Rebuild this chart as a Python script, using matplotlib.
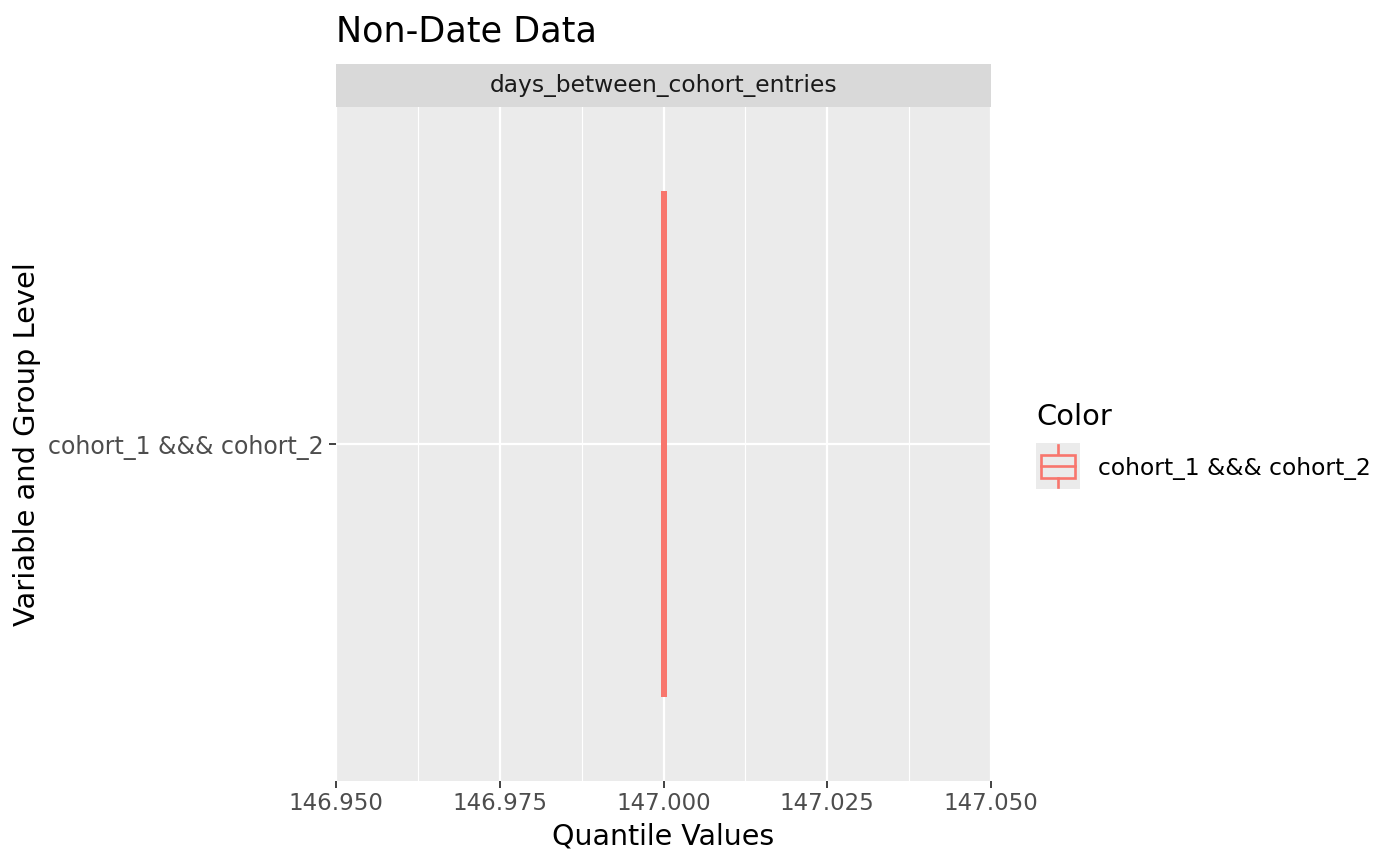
import numpy as np
import matplotlib
matplotlib.use('Agg')
import matplotlib.pyplot as plt
from matplotlib.patches import Rectangle

groups = ['cohort_1 &&& cohort_2']
quantiles = [147.0, 147.0, 147.0, 147.0, 147.0]  # min, q1, median, q3, max
facet = 'days_between_cohort_entries'
xticks = [146.950, 146.975, 147.000, 147.025, 147.050]

col = '#F8766D'
W, H = 1400, 866
fig = plt.figure(figsize=(14, 8.66), dpi=100)

# panel
ax = fig.add_axes([336/W, 1-781/H, (991-336)/W, (781-107)/H])
ax.set_facecolor('#EBEBEB')
for s in ax.spines.values():
    s.set_visible(False)
ax.set_xlim(146.95, 147.05)
ax.set_ylim(0.4, 1.6)
ax.set_xticks(xticks)
ax.set_xticks([146.9625, 146.9875, 147.0125, 147.0375], minor=True)
ax.set_xticklabels(['%.3f' % t for t in xticks])
ax.set_yticks([1])
ax.set_yticklabels(groups)
ax.tick_params(axis='both', which='major', length=5, width=1.3, color='#333333',
               labelcolor='#4D4D4D', labelsize=16.5, pad=3)
ax.tick_params(axis='y', labelsize=17, pad=4)
ax.tick_params(axis='x', which='minor', length=0)
ax.grid(True, which='major', color='white', lw=1.6)
ax.grid(True, which='minor', axis='x', color='white', lw=0.8)
ax.set_axisbelow(True)

for i, g in enumerate(groups):
    q = quantiles
    ypos = i + 1
    # box from q1 to q3, collapses to a line when all values equal
    ax.add_patch(Rectangle((q[1], ypos - 0.45), q[3] - q[1], 0.9,
                           facecolor='none', edgecolor=col, lw=4.3, zorder=3))
    ax.plot([q[2], q[2]], [ypos - 0.45, ypos + 0.45], color=col, lw=4.3, zorder=3,
            solid_capstyle='butt')
    ax.plot([q[0], q[1]], [ypos, ypos], color=col, lw=1.1, zorder=3)
    ax.plot([q[3], q[4]], [ypos, ypos], color=col, lw=1.1, zorder=3)

ax.set_xlabel('Quantile Values', fontsize=20.5, labelpad=5)
ax.set_ylabel('Variable and Group Level', fontsize=20.8)
ax.yaxis.set_label_coords(-(336-41)/(991-336), 0.5)

# facet strip
sax = fig.add_axes([336/W, 1-107/H, (991-336)/W, (107-64)/H])
sax.set_facecolor('#D9D9D9')
sax.set_xticks([]); sax.set_yticks([])
for s in sax.spines.values():
    s.set_visible(False)
sax.text(0.5, 0.5, facet, ha='center', va='center', fontsize=16.8, color='#1A1A1A',
         transform=sax.transAxes)

fig.text(336/W, 1-41/H, 'Non-Date Data', fontsize=25.2, ha='left', va='baseline')

# legend
fig.text(1036/W, 1-417/H, 'Color', fontsize=20.8, ha='left', va='center')
lax = fig.add_axes([1036/W, 1-489/H, 44/W, 46/H])
lax.set_facecolor('#EBEBEB')
lax.set_xlim(0, 1); lax.set_ylim(0, 1)
lax.set_xticks([]); lax.set_yticks([])
for s in lax.spines.values():
    s.set_visible(False)
lax.add_patch(Rectangle((0.12, 0.25), 0.76, 0.5, facecolor='none', edgecolor=col, lw=1.9))
lax.plot([0.12, 0.88], [0.5, 0.5], color=col, lw=1.9)
lax.plot([0.5, 0.5], [0.05, 0.25], color=col, lw=1.9)
lax.plot([0.5, 0.5], [0.75, 0.95], color=col, lw=1.9)
fig.text(1098/W, 1-468/H, groups[0], fontsize=16.8, ha='left', va='center')

fig.savefig('out.png', dpi=100)
